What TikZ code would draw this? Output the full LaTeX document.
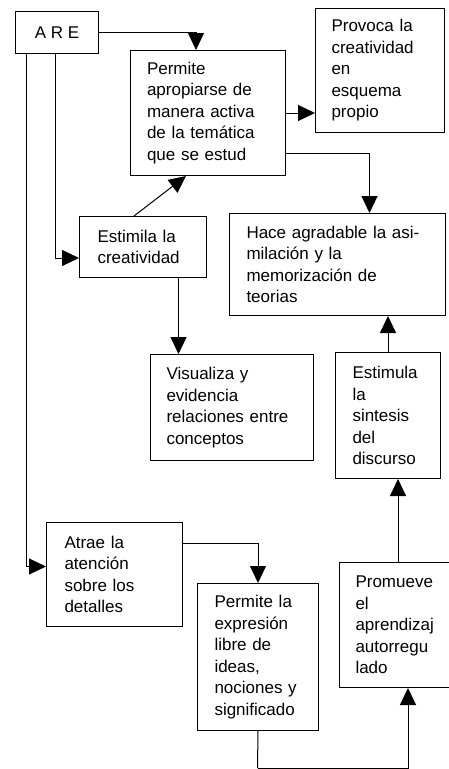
\documentclass[tikz,border=0pt]{standalone}
\usepackage{fontspec}
\setmainfont{Liberation Sans}
\usetikzlibrary{arrows.meta}
\begin{document}
\begin{tikzpicture}[x=1pt,y=-1pt,
  box/.style={draw, line width=1pt, anchor=north west, align=left, inner ysep=0pt, inner xsep=16pt, font=\fontsize{17}{21.5}\selectfont},
  flecha/.style={line width=1pt, -{Triangle[length=17pt,width=16pt]}},
  linea/.style={line width=1pt}]
\useasboundingbox (0,0) rectangle (448,769);
\node[box, align=center, inner xsep=0pt, minimum width=83pt, minimum height=42pt] (are) at (15,11){A R E};
\node[box, text width=122pt, minimum width=155pt, minimum height=125pt] (apropiar) at (130,50){Permite\\\makebox[122pt][s]{apropiarse de}\\\makebox[122pt][s]{manera activa}\\\makebox[122pt][s]{de la temática}\\que se estud};
\node[box, text width=97pt, minimum width=129pt, minimum height=124pt] (provoca) at (315,8){Provoca la\\creatividad\\en\\esquema\\propio};
\node[box, inner xsep=18pt, text width=91pt, minimum width=127pt, minimum height=61pt] (estimula) at (79,216){Estimila la\\creatividad};
\node[box, inner xsep=17pt, text width=182pt, minimum width=216pt, minimum height=102pt] (hace) at (229,213){Hace agradable la asi-\\milación y la\\memorización de\\teorias};
\node[box, text width=131pt, minimum width=163pt, minimum height=106pt] (visualiza) at (150,354){Visualiza y\\evidencia\\relaciones entre\\conceptos};
\node[box, inner xsep=17pt, text width=71pt, minimum width=105pt, minimum height=126pt] (sintesis) at (335,352){Estimula\\la\\sintesis\\del\\discurso};
\node[box, inner xsep=18pt, text width=100pt, minimum width=136pt, minimum height=104pt] (atrae) at (46,522){Atrae la\\atención\\sobre los\\detalles};
\node[box, inner xsep=17pt, text width=87pt, minimum width=121pt, minimum height=147pt] (expresion) at (197,583){Permite la\\expresión\\libre de\\ideas,\\nociones y\\significado};
\node[box, text width=85pt, minimum width=117pt, minimum height=125pt] (promueve) at (339,562){Promueve\\el\\aprendizaj\\autorregu\\lado};
\coordinate (pie) at (257.5,768);
\draw[flecha] (are.east) -| ([xshift=-12pt]apropiar.north);
\draw[flecha] (apropiar.east) -- (apropiar.east -| provoca.west);
\draw[flecha] ([yshift=-40pt]apropiar.east) -| ([xshift=32pt]hace.north);
\draw[flecha] ([xshift=-9pt]estimula.north) -- ([xshift=-22pt]apropiar.south);
\draw[flecha] ([xshift=-2pt]are.south) |- ([yshift=-11pt]estimula.west);
\draw[flecha] ([xshift=-31pt]are.south) |- ([yshift=8pt]atrae.west);
\draw[flecha] ([xshift=35.5pt]estimula.south) -- ([xshift=35.5pt]estimula.south |- visualiza.north);
\draw[flecha] (sintesis.north) -- (sintesis.north |- hace.south);
\draw[flecha] ([yshift=31pt]atrae.east) -| (expresion.north);
\draw[flecha] (promueve.north) -- (promueve.north |- sintesis.south);
\draw[linea] (expresion.south) -- (pie);
\draw[flecha] (pie) -| ([xshift=10pt]promueve.south);
\end{tikzpicture}
\end{document}
